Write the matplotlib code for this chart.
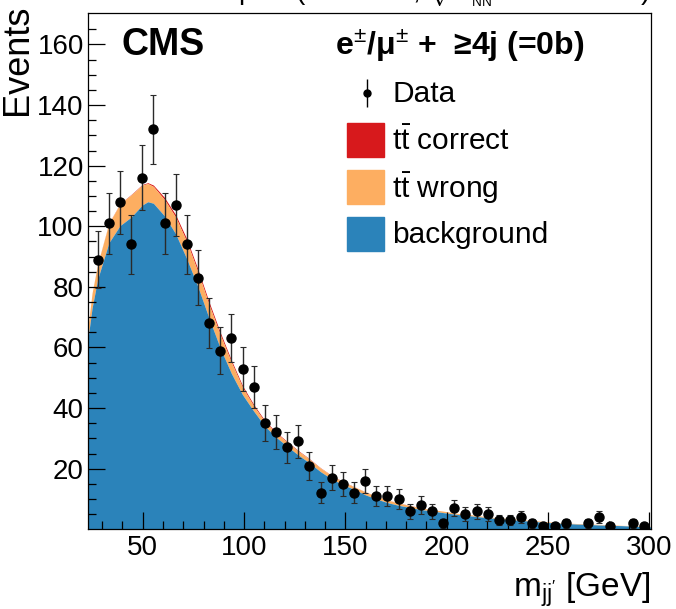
import matplotlib
matplotlib.use("Agg")
import matplotlib.pyplot as plt
from matplotlib.patches import Rectangle
import numpy as np

plt.rcParams["font.family"] = ["Liberation Sans", "DejaVu Sans"]
plt.rcParams["mathtext.fontset"] = "custom"
plt.rcParams["mathtext.rm"] = "Liberation Sans"
plt.rcParams["mathtext.it"] = "Liberation Sans:italic"
plt.rcParams["mathtext.bf"] = "Liberation Sans:bold"

# data points (bin centres, counts)
bin_centers = [27.75 + 5.5 * k for k in range(50)]
counts = [89, 101, 108, 94, 116, 132, 101, 107, 94, 83,
          68, 59, 63, 53, 47, 35, 32, 27, 29, 21,
          12, 17, 15, 12, 16, 11, 11, 10, 6, 8,
          6, 2, 7, 5, 6, 5, 3, 3, 4, 2,
          1, 1, 2, 0, 2, 4, 1, 0, 2, 1]

# stacked templates
curve_x = [23, 25, 27.75, 33.25, 38.75, 44.25, 49.75, 52.5, 55.25, 60.75,
           66.25, 71.75, 77.25, 82.75, 88.25, 93.75, 99.25, 104.75, 110.25, 115.75,
           121.25, 126.75, 132.25, 137.75, 143.25, 148.75, 154.25, 159.75, 165.25, 170.75,
           176.25, 181.75, 187.25, 192.75, 198.25, 203.75, 209.25, 214.75, 220.25, 225.75,
           231.25, 236.75, 242.25, 247.75, 253.25, 258.75, 264.25, 269.75, 275.25, 280.75,
           286.25, 291.75, 297.25, 301]
background = [63, 73, 82.5, 94.5, 100.2, 103.0, 107.0, 108.1, 107.6, 103.4,
              97.5, 89.2, 80.0, 69.6, 59.8, 51.4, 44.4, 39.0, 34.0, 30.4,
              27.4, 24.5, 21.9, 19.0, 16.6, 14.7, 13.2, 11.4, 10.0, 8.8,
              7.9, 7.2, 6.5, 6.0, 5.5, 5.0, 4.6, 4.2, 3.8, 3.5,
              3.2, 2.9, 2.6, 2.3, 2.1, 1.9, 1.7, 1.6, 1.4, 1.3,
              1.2, 1.0, 0.9, 0.8]
tt_wrong = [4.0, 5.0, 5.0, 6.4, 7.2, 7.35, 6.6, 6.0, 5.55, 5.4,
            5.5, 5.7, 4.9, 4.5, 4.4, 3.7, 2.4, 1.7, 1.5, 1.4,
            1.35, 1.3, 1.25, 1.2, 1.1, 1.0, 0.85, 0.95, 0.95, 0.85,
            0.75, 0.65, 0.55, 0.5, 0.5, 0.4, 0.4, 0.4, 0.3, 0.3,
            0.3, 0.3, 0.3, 0.3, 0.2, 0.2, 0.2, 0.2, 0.2, 0.2,
            0.1, 0.2, 0.2, 0.2]
tt_correct = [0, 0, 0.05, 0.1, 0.1, 0.15, 0.2, 0.3, 0.45, 0.7,
              0.8, 0.9, 0.9, 0.9, 0.8, 0.7, 0.6, 0.5, 0.4, 0.3,
              0.25, 0.2, 0.15, 0.1, 0.1, 0.1, 0.05, 0.05, 0.05, 0.05,
              0.05, 0.05, 0.05, 0, 0, 0, 0, 0, 0, 0,
              0, 0, 0, 0, 0, 0, 0, 0, 0, 0,
              0, 0, 0, 0]

c_bkg = "#2b83ba"
c_wrong = "#fdae61"
c_correct = "#d7191c"

fig = plt.figure(figsize=(6.76, 6.09), dpi=100)
ax = fig.add_axes([0.1302, 0.1309, 0.8328, 0.8478])

cx = np.array(curve_x)
lvl1 = np.array(background)
lvl2 = lvl1 + np.array(tt_wrong)
lvl3 = lvl2 + np.array(tt_correct)
ax.fill_between(cx, lvl2, lvl3, color=c_correct, lw=0)
ax.fill_between(cx, lvl1, lvl2, color=c_wrong, lw=0)
ax.fill_between(cx, 0, lvl1, color=c_bkg, lw=0)

xs = np.array(bin_centers)
ys = np.array(counts, dtype=float)
nz = ys > 0
ax.errorbar(xs[nz], ys[nz], yerr=np.sqrt(ys[nz]), fmt="o", color="black",
            ms=6.5, elinewidth=1.0, capsize=2, capthick=0.8, ecolor="#2a2a2a")

ax.set_xlim(23, 300.8)
ax.set_ylim(0, 170.4)
ax.set_xticks([50, 100, 150, 200, 250, 300])
ax.set_xticks(np.arange(30, 301, 10), minor=True)
ax.set_yticks([20, 40, 60, 80, 100, 120, 140, 160])
ax.set_yticks(np.arange(5, 170, 5), minor=True)
ax.tick_params(which="both", direction="in", top=False, right=False,
               labelsize=20, width=0.9)
ax.tick_params(which="major", length=12)
ax.tick_params(which="minor", length=6)
ax.tick_params(axis="x", pad=4)
ax.tick_params(axis="y", pad=3)
for s in ax.spines.values():
    s.set_linewidth(0.9)

ax.set_ylabel("Events", fontsize=26, loc="top")
ax.yaxis.set_label_coords(-0.094, 1.016)
ax.set_xlabel(r"m$_{\mathrm{jj'}}$ [GeV]", fontsize=24, loc="right")
ax.xaxis.set_label_coords(1.0, -0.08)

ax.text(0.06, 0.918, "CMS", transform=ax.transAxes, fontsize=27,
        fontweight="bold", va="baseline")
ax.text(0.438, 0.918, "e$^{\\pm}$/\u03bc$^{\\pm}$ +  \u22654j (=0b)",
        transform=ax.transAxes, fontsize=23, fontweight="bold", va="baseline")

fig.text(0.961, 1.0016, r"pPb (174 nb$^{-1}$, $\sqrt{s_{_{\mathrm{NN}}}}$ = 8.16 TeV)",
         ha="right", va="baseline", fontsize=20)

# legend
ax.errorbar([0.495], [0.845], yerr=[0.028], fmt="o", color="black", ms=5,
            elinewidth=1.0, transform=ax.transAxes, clip_on=False)
ax.text(0.540, 0.843, "Data", transform=ax.transAxes, fontsize=21.5, va="center")
entries = [(c_correct, r"t$\bar{\mathrm{t}}$ correct", 0.754),
           (c_wrong, r"t$\bar{\mathrm{t}}$ wrong", 0.663),
           (c_bkg, "background", 0.572)]
for col, lab, yy in entries:
    ax.add_patch(Rectangle((0.460, yy - 0.033), 0.0657, 0.066, color=col,
                           transform=ax.transAxes))
    ax.text(0.540, yy - 0.002, lab, transform=ax.transAxes, fontsize=21.5,
            va="center")

fig.savefig("out.png", dpi=100)
